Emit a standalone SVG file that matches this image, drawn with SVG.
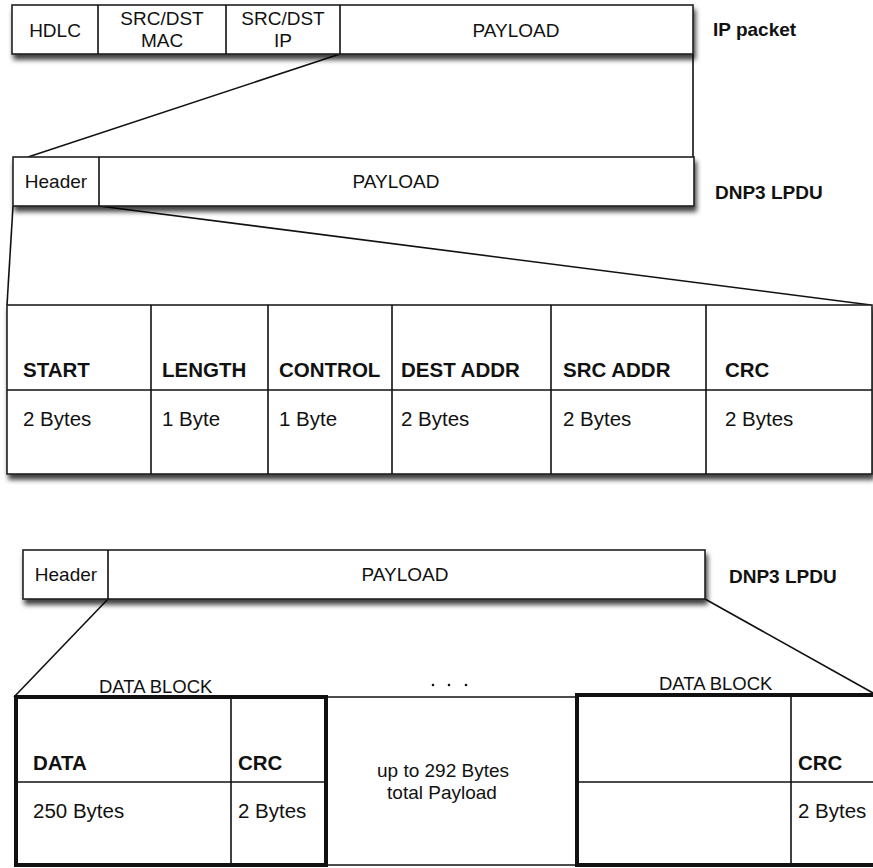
<svg xmlns="http://www.w3.org/2000/svg" width="873" height="868" viewBox="0 0 873 868">
<defs>
<filter id="sh" x="-5%" y="-20%" width="110%" height="160%">
<feDropShadow dx="2" dy="5" stdDeviation="2.5" flood-color="#000" flood-opacity="0.75"/>
</filter>
</defs>
<style>
.box{fill:#fff;stroke:#222;stroke-width:1.6}
.ln{fill:none;stroke:#111;stroke-width:1.6}
.thk{fill:none;stroke:#111;stroke-width:4}
text{font-family:"Liberation Sans",Arial,sans-serif;fill:#111}
.t{font-size:19px}
.c{text-anchor:middle}
.b{font-weight:bold}
.tb{font-size:20.5px}
.db{font-size:18.5px}
</style>
<rect width="873" height="868" fill="#fff"/>
<g id="connectors">
<line class="ln" x1="340" y1="54" x2="28" y2="157"/>
<line class="ln" x1="693" y1="54" x2="693" y2="157"/>
<line class="ln" x1="13" y1="206" x2="7" y2="305"/>
<line class="ln" x1="99" y1="206" x2="871" y2="305"/>
<line class="ln" x1="108" y1="599" x2="14" y2="697"/>
<line class="ln" x1="705" y1="599" x2="873" y2="693"/>
</g>
<g id="ip-packet">
<rect class="box" x="12" y="5" width="681" height="49" filter="url(#sh)"/>
<line class="ln" x1="98" y1="5" x2="98" y2="54"/>
<line class="ln" x1="226" y1="5" x2="226" y2="54"/>
<line class="ln" x1="340" y1="5" x2="340" y2="54"/>
<text class="t c" x="55" y="37">HDLC</text>
<text class="t c" x="162" y="25">SRC/DST</text>
<text class="t c" x="162" y="47">MAC</text>
<text class="t c" x="283" y="25">SRC/DST</text>
<text class="t c" x="283" y="47">IP</text>
<text class="t c" x="516" y="37">PAYLOAD</text>
<text class="t b" x="713" y="36">IP packet</text>
</g>
<g id="lpdu1">
<rect class="box" x="13" y="157" width="681" height="49" filter="url(#sh)"/>
<line class="ln" x1="99" y1="157" x2="99" y2="206"/>
<text class="t c" x="56" y="188">Header</text>
<text class="t c" x="396" y="188">PAYLOAD</text>
<text class="t b" x="715" y="199">DNP3 LPDU</text>
</g>
<g id="header-table">
<rect class="box" x="7" y="305" width="865" height="169" filter="url(#sh)"/>
<line class="ln" x1="151" y1="305" x2="151" y2="474"/>
<line class="ln" x1="268" y1="305" x2="268" y2="474"/>
<line class="ln" x1="392" y1="305" x2="392" y2="474"/>
<line class="ln" x1="551" y1="305" x2="551" y2="474"/>
<line class="ln" x1="706" y1="305" x2="706" y2="474"/>
<line class="ln" x1="7" y1="390" x2="872" y2="390"/>
<text class="tb b" x="23" y="377">START</text>
<text class="tb b" x="162" y="377">LENGTH</text>
<text class="tb b" x="279" y="377">CONTROL</text>
<text class="tb b" x="401" y="377">DEST ADDR</text>
<text class="tb b" x="563" y="377">SRC ADDR</text>
<text class="tb b" x="725" y="377">CRC</text>
<text class="tb" x="23" y="426">2 Bytes</text>
<text class="tb" x="162" y="426">1 Byte</text>
<text class="tb" x="279" y="426">1 Byte</text>
<text class="tb" x="401" y="426">2 Bytes</text>
<text class="tb" x="563" y="426">2 Bytes</text>
<text class="tb" x="725" y="426">2 Bytes</text>
</g>
<g id="lpdu2">
<rect class="box" x="23" y="550" width="682" height="49" filter="url(#sh)"/>
<line class="ln" x1="108" y1="550" x2="108" y2="599"/>
<text class="t c" x="66" y="581">Header</text>
<text class="t c" x="405" y="581">PAYLOAD</text>
<text class="t b" x="729" y="583">DNP3 LPDU</text>
</g>
<g id="payload-blocks">
<line class="ln" x1="326" y1="697" x2="578" y2="697"/>
<line class="ln" x1="326" y1="865" x2="578" y2="865"/>
<text class="db" x="99" y="693">DATA BLOCK</text>
<text class="db" x="659" y="690">DATA BLOCK</text>
<circle cx="433" cy="685" r="1.3" fill="#111"/>
<circle cx="449" cy="685" r="1.3" fill="#111"/>
<circle cx="466" cy="685" r="1.3" fill="#111"/>
<text class="t c" x="443" y="777">up to 292 Bytes</text>
<text class="t c" x="442" y="799">total Payload</text>
</g>
<g id="data-block-1">
<line class="ln" x1="231" y1="697" x2="231" y2="865"/>
<line class="ln" x1="15" y1="782" x2="326" y2="782"/>
<rect class="thk" x="16" y="697" width="310" height="168"/>
<text class="tb b" x="33" y="770">DATA</text>
<text class="tb b" x="238" y="770">CRC</text>
<text class="tb" x="33" y="818">250 Bytes</text>
<text class="tb" x="238" y="818">2 Bytes</text>
</g>
<g id="data-block-2">
<line class="ln" x1="791" y1="695" x2="791" y2="865"/>
<line class="ln" x1="576" y1="782" x2="873" y2="782"/>
<rect class="thk" x="577" y="695" width="300" height="170"/>
<text class="tb b" x="798" y="770">CRC</text>
<text class="tb" x="798" y="818">2 Bytes</text>
</g>
</svg>
